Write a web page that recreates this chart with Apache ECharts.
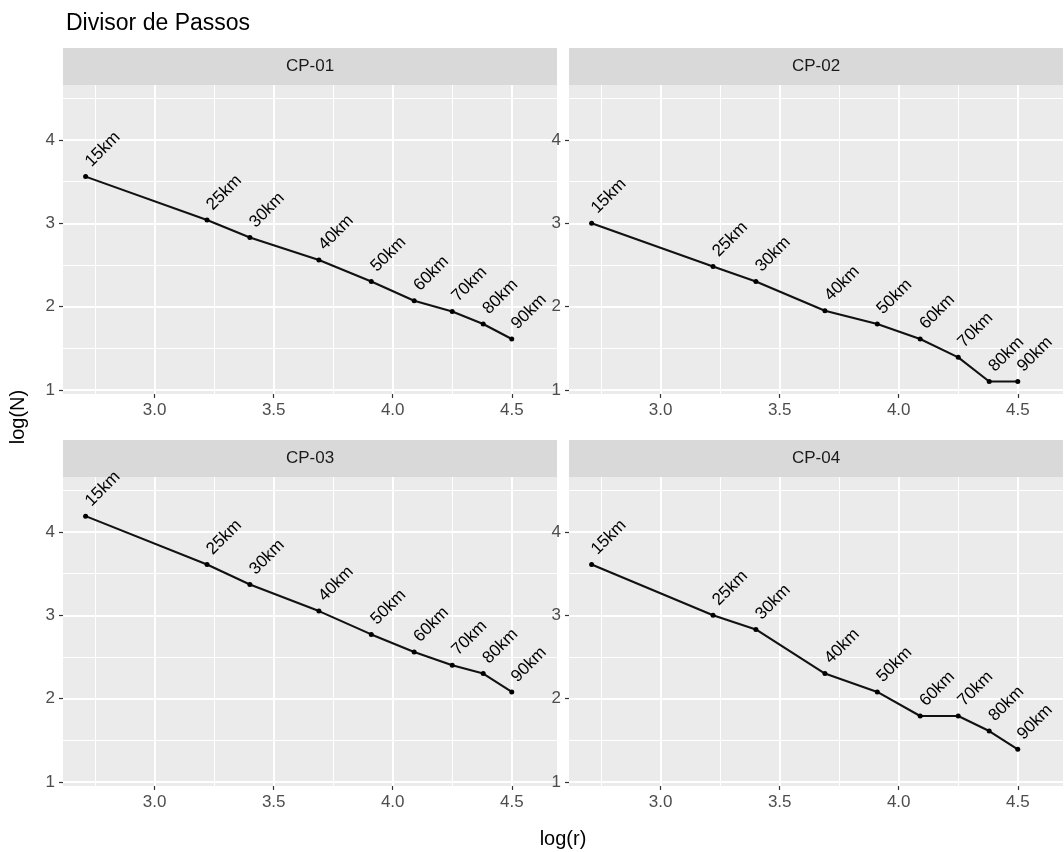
<!DOCTYPE html>
<html>
<head>
<meta charset="utf-8">
<title>Divisor de Passos</title>
<script src="https://cdn.jsdelivr.net/npm/echarts@6.0.0/dist/echarts.min.js"></script>
<style>
  html, body { margin: 0; padding: 0; background: #fff; }
  #chart { width: 1064px; height: 852px; }
</style>
</head>
<body>
<div id="chart"></div>
<script>
// step labels and log(r) of each step
const kmLabels = ["15km", "25km", "30km", "40km", "50km", "60km", "70km", "80km", "90km"];
const logR = [2.71, 3.22, 3.40, 3.69, 3.91, 4.09, 4.25, 4.38, 4.50];

// log(N) per panel
const panelNames = ["CP-01", "CP-02", "CP-03", "CP-04"];
const cp01 = [3.56, 3.04, 2.83, 2.56, 2.30, 2.07, 1.94, 1.79, 1.61];
const cp02 = [3.00, 2.48, 2.30, 1.95, 1.79, 1.61, 1.39, 1.10, 1.10];
const cp03 = [4.19, 3.61, 3.37, 3.05, 2.77, 2.56, 2.40, 2.30, 2.08];
const cp04 = [3.61, 3.00, 2.83, 2.30, 2.08, 1.79, 1.79, 1.61, 1.39];

const xMajorTicks = [3.0, 3.5, 4.0, 4.5];
const xMinorTicks = [2.75, 3.25, 3.75, 4.25];
const yMajorTicks = [1, 2, 3, 4];
const yMinorTicks = [1.5, 2.5, 3.5, 4.5];

const panelValues = [cp01, cp02, cp03, cp04];

// layout (facet grid)
const FONT = "'Liberation Sans', Arial, sans-serif";
const colLeft = [63, 569];
const rowTop = [85, 477];
const panelW = 494;
const panelH = 309;
const stripH = 37;
const xRange = [2.615, 4.69];
const yRange = [0.95, 4.66];

const chart = echarts.init(document.getElementById("chart"));

const grids = [];
const xAxes = [];
const yAxes = [];
const series = [];
const graphic = [];

panelNames.forEach((name, i) => {
  const left = colLeft[i % 2];
  const top = rowTop[Math.floor(i / 2)];

  grids.push({
    left: left,
    top: top,
    width: panelW,
    height: panelH,
    show: true,
    backgroundColor: "#EBEBEB",
    borderWidth: 0,
  });

  // major x axis: ticks, labels, major grid lines
  xAxes.push({
    type: "value",
    gridIndex: i,
    position: "bottom",
    min: xRange[0],
    max: xRange[1],
    axisLine: { show: false },
    axisTick: {
      show: true,
      customValues: xMajorTicks,
      length: 4,
      lineStyle: { color: "#333333", width: 1.2 },
    },
    axisLabel: {
      customValues: xMajorTicks,
      formatter: (v) => v.toFixed(1),
      color: "#4D4D4D",
      fontSize: 17,
      fontFamily: FONT,
      margin: 8,
    },
    splitLine: { show: true, lineStyle: { color: "#FFFFFF", width: 2 } },
  });
  // minor x grid lines
  xAxes.push({
    type: "value",
    gridIndex: i,
    position: "top",
    min: xRange[0],
    max: xRange[1],
    axisLine: { show: false },
    axisTick: { show: false, customValues: xMinorTicks },
    axisLabel: { show: false, customValues: xMinorTicks },
    splitLine: { show: true, lineStyle: { color: "#FFFFFF", width: 1 } },
  });

  yAxes.push({
    type: "value",
    gridIndex: i,
    position: "left",
    min: yRange[0],
    max: yRange[1],
    axisLine: { show: false },
    axisTick: {
      show: true,
      customValues: yMajorTicks,
      length: 4,
      lineStyle: { color: "#333333", width: 1.2 },
    },
    axisLabel: {
      customValues: yMajorTicks,
      formatter: (v) => String(v),
      color: "#4D4D4D",
      fontSize: 17,
      fontFamily: FONT,
      margin: 8,
    },
    splitLine: { show: true, lineStyle: { color: "#FFFFFF", width: 2 } },
  });
  yAxes.push({
    type: "value",
    gridIndex: i,
    position: "right",
    min: yRange[0],
    max: yRange[1],
    axisLine: { show: false },
    axisTick: { show: false, customValues: yMinorTicks },
    axisLabel: { show: false, customValues: yMinorTicks },
    splitLine: { show: true, lineStyle: { color: "#FFFFFF", width: 1 } },
  });

  series.push({
    name: name,
    type: "line",
    xAxisIndex: 2 * i,
    yAxisIndex: 2 * i,
    data: logR.map((x, j) => [x, panelValues[i][j]]),
    symbol: "circle",
    symbolSize: 5,
    itemStyle: { color: "#000000" },
    lineStyle: { color: "#111111", width: 2.1 },
    z: 5,
    label: {
      show: true,
      formatter: (p) => kmLabels[p.dataIndex],
      position: [11, -4],
      align: "left",
      verticalAlign: "bottom",
      rotate: 45,
      color: "#000000",
      fontSize: 17,
      fontFamily: FONT,
    },
  });

  // facet strip
  graphic.push({
    type: "rect",
    shape: { x: left, y: top - stripH, width: panelW, height: stripH },
    style: { fill: "#D9D9D9" },
    z: 1,
  });
  graphic.push({
    type: "text",
    x: left + panelW / 2,
    y: top - stripH / 2,
    style: {
      text: name,
      align: "center",
      verticalAlign: "middle",
      fill: "#1A1A1A",
      fontSize: 17,
      fontFamily: FONT,
    },
    z: 2,
  });
});

// axis titles
graphic.push({
  type: "text",
  x: colLeft[1] - 6,
  y: 839,
  style: {
    text: "log(r)",
    align: "center",
    verticalAlign: "middle",
    fill: "#000000",
    fontSize: 20,
    fontFamily: FONT,
  },
});
graphic.push({
  type: "text",
  x: 18,
  y: 417,
  rotation: Math.PI / 2,
  style: {
    text: "log(N)",
    align: "center",
    verticalAlign: "middle",
    fill: "#000000",
    fontSize: 20,
    fontFamily: FONT,
  },
});

chart.setOption({
  animation: false,
  backgroundColor: "#FFFFFF",
  title: {
    text: "Divisor de Passos",
    left: 61,
    top: 7,
    textStyle: {
      color: "#000000",
      fontSize: 23,
      fontWeight: "normal",
      fontFamily: FONT,
    },
  },
  grid: grids,
  xAxis: xAxes,
  yAxis: yAxes,
  series: series,
  graphic: graphic,
});
</script>
</body>
</html>
